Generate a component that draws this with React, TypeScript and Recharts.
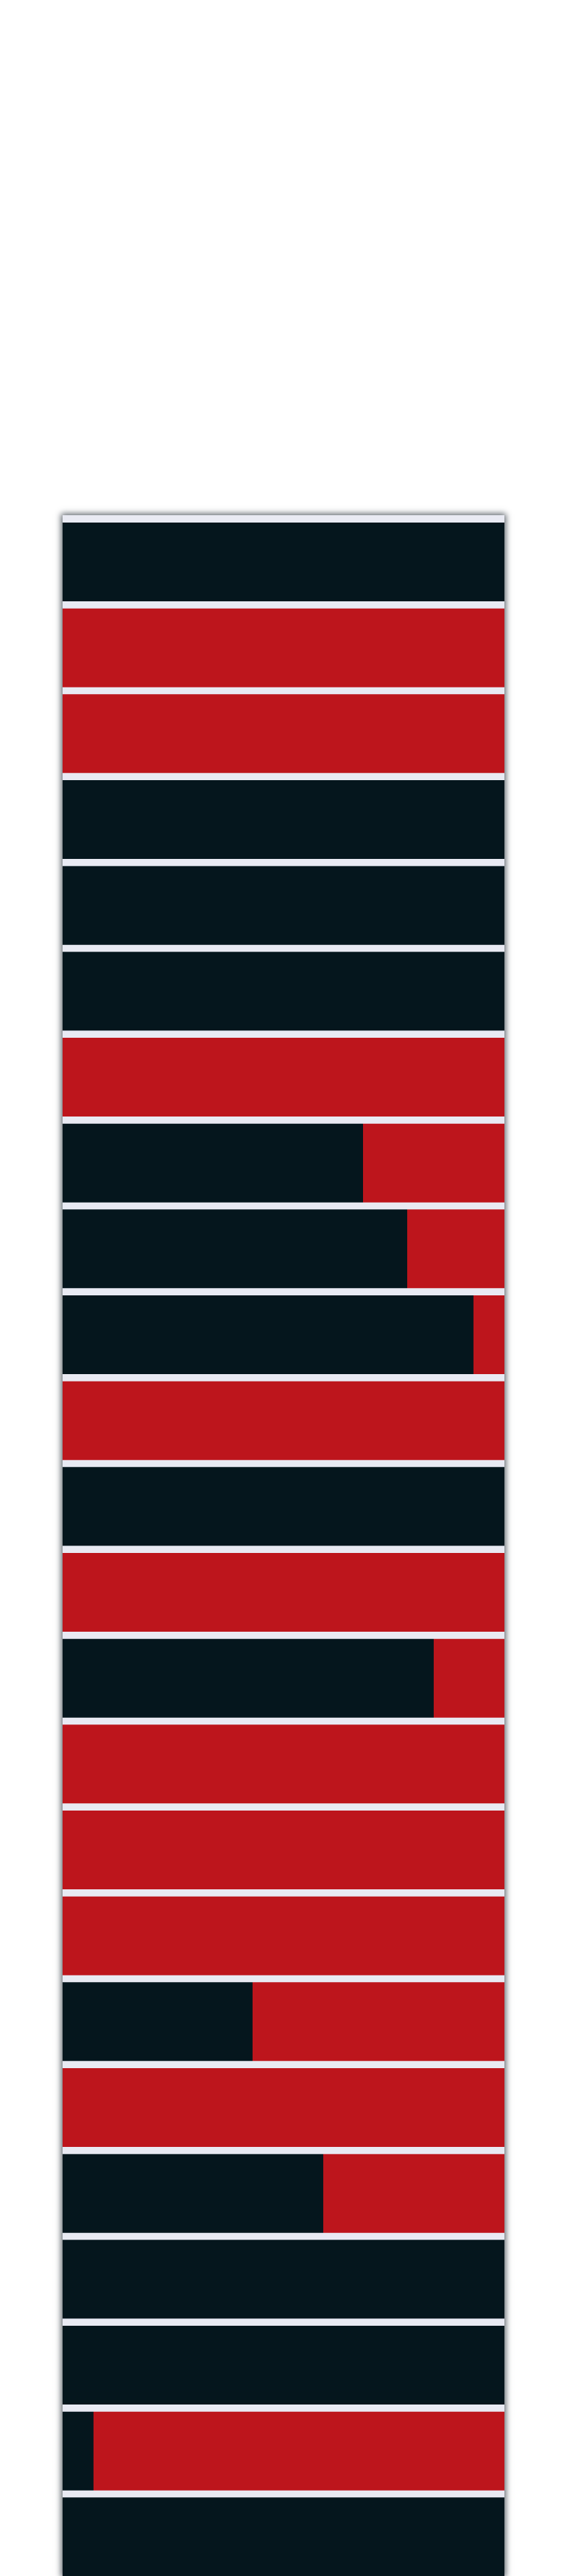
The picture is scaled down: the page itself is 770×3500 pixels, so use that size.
import { Bar, BarChart, XAxis, YAxis } from 'recharts';

// one row per category, top to bottom
const rows = [
    'r01', 'r02', 'r03', 'r04', 'r05', 'r06', 'r07', 'r08', 'r09', 'r10', 'r11', 'r12',
    'r13', 'r14', 'r15', 'r16', 'r17', 'r18', 'r19', 'r20', 'r21', 'r22', 'r23', 'r24',
];
const darkShare = [100, 0, 0, 100, 100, 100, 0, 68, 78, 93, 0, 100, 0, 84, 0, 0, 0, 43, 0, 59, 100, 100, 7, 100];
const redShare = [0, 100, 100, 0, 0, 0, 100, 32, 22, 7, 100, 0, 100, 16, 100, 100, 100, 57, 100, 41, 0, 0, 93, 0];

const data = rows.map((name, i) => ({ name, dark: darkShare[i], red: redShare[i] }));

export default function App() {
    return (
        <div
            style={{
                position: 'absolute',
                left: 85,
                top: 700,
                width: 600,
                height: 2800,
                overflow: 'hidden',
                background: '#e9eaf3',
                boxShadow: '0 0 8px 2px rgba(20,30,40,0.7)',
            }}
        >
            <BarChart
                width={600}
                height={2805}
                data={data}
                layout="vertical"
                margin={{ top: 5, right: 0, bottom: 0, left: 0 }}
                barCategoryGap={5}
            >
                <XAxis type="number" domain={[0, 100]} hide />
                <YAxis type="category" dataKey="name" hide />
                <Bar dataKey="dark" stackId="s" fill="#05161d" isAnimationActive={false} />
                <Bar dataKey="red" stackId="s" fill="#bd151c" isAnimationActive={false} />
            </BarChart>
        </div>
    );
}
